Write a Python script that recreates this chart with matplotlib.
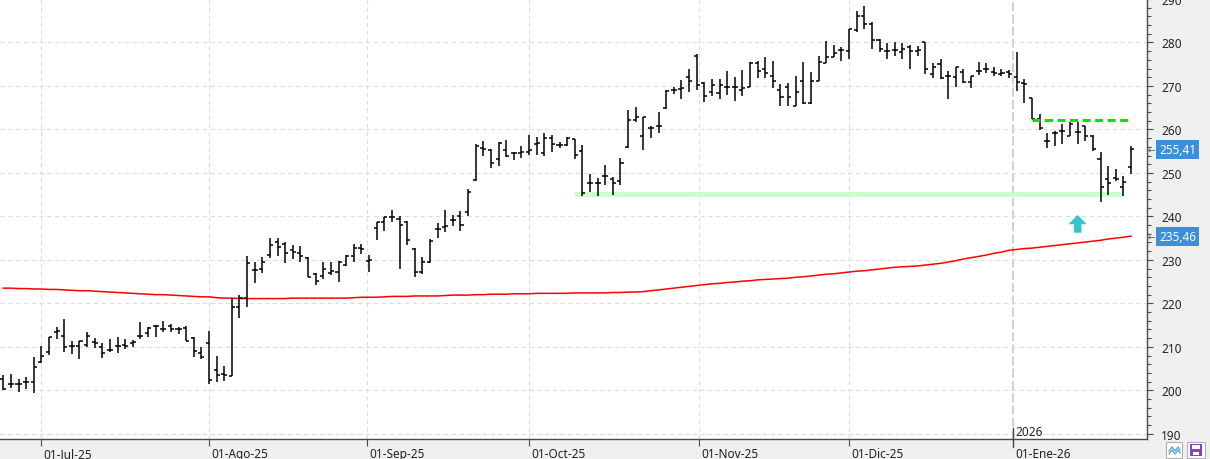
import numpy as np
import pandas as pd
import matplotlib
matplotlib.use('Agg')
import matplotlib.pyplot as plt
import matplotlib.transforms as mtransforms
from matplotlib.lines import Line2D
from matplotlib.patches import Rectangle
from matplotlib.ticker import MultipleLocator

plt.rcParams['font.family'] = ['Noto Sans', 'DejaVu Sans']

# sesiones (mercado USA) del 24-jun-25 al 26-ene-26
holidays = ['2025-07-04', '2025-09-01', '2025-11-27', '2025-12-25',
            '2026-01-01', '2026-01-19']
dates = pd.bdate_range('2025-06-24', '2026-01-26', freq='C', holidays=holidays)

opens = [202.7, 201.5, 201.4, 202.0, 202.0, 206.5, 208.9, 213.4, 212.6, 210.3,
         210.3, 210.5, 211.1, 210.0, 209.2, 210.3, 210.5, 210.9, 212.4, 213.2,
         214.9, 214.0, 214.7, 214.0, 214.4, 212.1, 208.6, 210.8, 204.6, 203.7,
         203.4, 219.2, 221.2, 227.7, 227.9, 231.1, 234.0, 233.6, 232.2, 231.6,
         230.5, 226.7, 226.4, 226.9, 227.1, 228.8, 230.9, 232.7, 229.7, 237.3,
         238.6, 239.8, 239.5, 238.8, 232.4, 227.1, 229.5, 237.1, 237.5, 239.2,
         240.2, 241.1, 248.3, 255.7, 255.2, 253.2, 255.3, 254.5, 254.5, 254.9,
         256.7, 254.5, 258.0, 256.4, 256.4, 257.8, 255.0, 247.7, 247.7, 249.4,
         248.5, 248.1, 256.0, 262.1, 258.5, 260.3, 260.9, 264.9, 269.1, 269.2,
         272.0, 276.9, 270.6, 268.7, 268.3, 269.7, 269.7, 269.1, 269.7, 275.3,
         274.0, 272.3, 269.1, 269.8, 265.4, 271.1, 266.0, 271.1, 275.3, 276.7,
         278.2, 278.0, 282.8, 286.0, 284.2, 280.5, 278.0, 278.2, 277.9, 279.0,
         278.0, 280.0, 272.7, 275.0, 272.3, 272.1, 273.1, 271.0, 273.5, 274.0,
         273.3, 272.7, 273.1, 272.0, 270.6, 267.2, 262.4, 257.3, 259.2, 259.6,
         258.6, 259.3, 260.8, 258.4, 253.1, 248.6, 248.9, 246.8, 251.4]
highs = [203.5, 203.7, 202.7, 203.1, 207.6, 210.2, 212.3, 214.6, 216.3, 211.3,
         211.3, 213.4, 212.1, 210.9, 211.8, 212.3, 211.9, 211.5, 215.7, 214.6,
         215.1, 215.9, 215.3, 214.6, 214.7, 212.3, 209.9, 213.6, 208.0, 205.6,
         221.2, 222.0, 230.9, 229.4, 230.6, 235.0, 235.0, 234.2, 233.5, 233.1,
         230.7, 226.9, 229.4, 229.5, 229.8, 231.2, 233.7, 233.7, 231.1, 238.8,
         239.9, 241.4, 240.2, 239.0, 232.7, 230.7, 234.7, 238.4, 241.4, 240.3,
         241.3, 246.4, 256.6, 257.4, 255.5, 257.0, 257.6, 254.9, 256.1, 258.7,
         258.3, 259.1, 258.7, 257.2, 258.3, 257.8, 256.5, 249.8, 248.9, 251.9,
         249.1, 253.4, 264.5, 265.1, 262.8, 260.7, 264.0, 269.1, 269.7, 271.4,
         274.0, 277.3, 271.0, 271.5, 271.5, 273.5, 272.1, 273.7, 275.6, 275.7,
         276.6, 275.7, 270.5, 270.6, 272.3, 275.6, 273.1, 276.9, 280.3, 279.4,
         279.0, 283.2, 287.3, 288.5, 284.7, 280.9, 279.9, 280.0, 279.8, 279.5,
         279.2, 280.0, 275.3, 276.1, 273.5, 274.3, 273.8, 272.3, 275.4, 275.2,
         274.3, 273.8, 273.7, 277.7, 271.5, 267.3, 263.6, 259.2, 259.6, 261.3,
         261.6, 261.6, 260.8, 258.8, 254.7, 251.7, 250.9, 249.4, 256.3]
lows = [200.1, 200.6, 199.5, 200.4, 199.3, 206.2, 208.2, 211.7, 208.8, 208.4,
        207.3, 210.0, 209.8, 207.5, 208.8, 208.6, 209.6, 209.9, 211.7, 212.3,
        212.3, 213.4, 213.4, 213.0, 211.3, 207.6, 207.3, 201.4, 201.8, 202.1,
        203.4, 216.6, 219.2, 224.7, 226.9, 230.4, 230.9, 229.2, 230.3, 229.5,
        226.1, 224.2, 225.6, 226.5, 225.0, 228.6, 229.5, 231.4, 227.3, 234.5,
        236.7, 238.8, 228.0, 233.5, 226.0, 226.7, 229.3, 235.0, 236.4, 237.9,
        236.7, 240.2, 248.1, 253.8, 251.1, 251.5, 253.6, 252.9, 253.4, 254.2,
        254.2, 253.8, 254.9, 255.7, 256.2, 253.2, 244.7, 245.6, 244.7, 247.3,
        245.0, 247.3, 255.7, 261.8, 255.3, 258.0, 259.2, 264.7, 268.1, 266.9,
        268.7, 269.1, 266.2, 267.6, 266.9, 267.9, 266.6, 267.6, 269.7, 271.8,
        271.9, 269.5, 265.5, 265.3, 265.4, 265.9, 265.8, 271.1, 275.2, 276.6,
        275.8, 276.1, 282.4, 283.2, 278.4, 277.9, 276.1, 276.9, 276.3, 273.8,
        276.9, 272.7, 271.8, 271.5, 266.9, 269.8, 270.6, 269.5, 272.5, 272.9,
        272.3, 272.3, 271.8, 268.9, 266.0, 262.4, 259.9, 255.7, 256.3, 256.7,
        258.5, 256.7, 257.3, 255.0, 243.4, 245.0, 248.1, 244.7, 249.8]
closes = [200.4, 201.5, 201.4, 201.8, 205.3, 208.0, 212.3, 213.6, 210.0, 210.3,
          211.3, 212.6, 210.9, 208.6, 209.2, 210.3, 210.2, 211.1, 212.6, 214.4,
          214.9, 214.0, 214.0, 214.1, 211.3, 209.0, 207.6, 202.4, 203.5, 203.5,
          219.2, 221.2, 229.2, 227.7, 229.6, 233.4, 232.9, 231.5, 231.9, 230.8,
          226.1, 225.2, 228.0, 227.4, 229.5, 230.9, 232.7, 232.6, 229.9, 238.6,
          239.9, 239.8, 238.0, 234.5, 227.1, 229.5, 234.3, 237.1, 237.9, 239.2,
          238.0, 245.5, 256.1, 255.5, 252.3, 256.8, 253.9, 254.5, 254.7, 255.3,
          256.8, 258.0, 256.7, 256.4, 258.0, 254.2, 245.3, 247.7, 247.7, 249.4,
          247.6, 252.3, 262.2, 262.8, 262.8, 260.3, 260.9, 268.9, 269.1, 269.5,
          271.1, 270.2, 267.6, 270.2, 270.2, 269.7, 269.7, 269.5, 275.3, 273.5,
          272.9, 271.2, 267.4, 267.4, 268.7, 266.0, 271.2, 275.6, 276.7, 277.5,
          278.2, 283.0, 286.0, 284.2, 280.5, 278.6, 278.0, 278.2, 278.6, 278.0,
          278.2, 274.0, 274.4, 271.8, 272.3, 274.3, 271.0, 272.3, 273.5, 273.8,
          272.9, 272.9, 272.7, 271.0, 270.5, 262.4, 260.3, 257.3, 259.2, 259.6,
          261.3, 259.3, 258.4, 255.5, 246.8, 247.7, 248.5, 247.9, 255.41]
# media movil (linea roja)
ma_line = [223.5, 223.5, 223.4, 223.4, 223.3, 223.3, 223.2, 223.2, 223.1, 223.0,
           222.9, 222.9, 222.8, 222.7, 222.6, 222.5, 222.4, 222.3, 222.2, 222.1,
           222.0, 222.0, 221.9, 221.8, 221.7, 221.6, 221.5, 221.5, 221.3, 221.2,
           221.2, 221.1, 221.1, 221.1, 221.1, 221.1, 221.1, 221.1, 221.2, 221.2,
           221.2, 221.2, 221.2, 221.2, 221.2, 221.2, 221.3, 221.4, 221.4, 221.4,
           221.5, 221.6, 221.6, 221.6, 221.7, 221.7, 221.7, 221.7, 221.8, 221.9,
           221.9, 221.9, 222.0, 222.0, 222.1, 222.1, 222.1, 222.2, 222.2, 222.2,
           222.3, 222.3, 222.3, 222.3, 222.3, 222.4, 222.4, 222.4, 222.4, 222.4,
           222.5, 222.5, 222.6, 222.6, 222.7, 222.9, 223.1, 223.3, 223.5, 223.7,
           223.9, 224.1, 224.3, 224.5, 224.6, 224.8, 224.9, 225.1, 225.2, 225.4,
           225.5, 225.6, 225.7, 225.8, 226.0, 226.1, 226.3, 226.5, 226.7, 226.8,
           227.0, 227.2, 227.4, 227.5, 227.7, 227.9, 228.1, 228.3, 228.4, 228.5,
           228.6, 228.8, 229.0, 229.2, 229.5, 229.8, 230.2, 230.5, 230.8, 231.1,
           231.5, 231.8, 232.2, 232.4, 232.6, 232.7, 232.9, 233.1, 233.3, 233.5,
           233.7, 233.9, 234.1, 234.3, 234.5, 234.8, 235.0, 235.2, 235.46]

month_abbr = {1: 'Ene', 7: 'Jul', 8: 'Ago', 9: 'Sep', 10: 'Oct', 11: 'Nov', 12: 'Dic'}
month_firsts = pd.date_range('2025-07-01', '2026-01-01', freq='MS')

# lineas dibujadas a mano sobre el grafico
support_low, support_high = 244.5, 245.6
support_from, support_to = 75, 147
resist_level = 262.2
resist_from, resist_to = 135, 148
arrow_bar, arrow_base, arrow_tip = 141, 236.4, 240.1

idx = np.arange(len(dates))
ords = np.array([d.toordinal() for d in dates])
tick_pos = np.interp([d.toordinal() for d in month_firsts], ords, idx)
tick_lab = ['01-%s-%s' % (month_abbr[d.month], d.strftime('%y')) for d in month_firsts]

W, H = 1210, 460
fig = plt.figure(figsize=(W / 100, H / 100), dpi=100, facecolor='#f0f0f0')
ax = fig.add_axes([0, 20 / H, 1147 / W, 440 / H], facecolor='white')
ax.set_xlim(-0.43, 150.1)
ax.set_ylim(188.8, 290.0)

for s in ['top', 'left']:
    ax.spines[s].set_visible(False)
for s in ['right', 'bottom']:
    ax.spines[s].set_color('#4a4a4a')
    ax.spines[s].set_linewidth(1.0)

# grid
ax.yaxis.tick_right()
ax.set_yticks(np.arange(190, 291, 10))
ax.yaxis.set_minor_locator(MultipleLocator(2))
ax.grid(True, axis='y', which='major', color='#dcdcdc', linestyle=(0, (4, 3)), lw=0.8)
for p in tick_pos[:-1]:
    ax.axvline(p, color='#dcdcdc', linestyle=(0, (4, 3)), lw=0.8, zorder=0.5)
ax.axvline(tick_pos[-1], color='#c4c4c4', linestyle=(0, (6, 2)), lw=1.1, zorder=0.5)

ax.tick_params(axis='y', which='major', length=4, width=0.8, color='#4a4a4a',
               pad=6, labelsize=8.5, labelcolor='#222222')
ax.tick_params(axis='y', which='minor', length=3, width=0.8, color='#4a4a4a')
ax.set_xticks(tick_pos)
ax.set_xticklabels(tick_lab)
ax.tick_params(axis='x', length=5, width=0.8, color='#4a4a4a', pad=1,
               labelsize=8.5, labelcolor='#222222')
shift = mtransforms.ScaledTranslation(2 / 100, 0, fig.dpi_scale_trans)
for lab in ax.get_xticklabels():
    lab.set_horizontalalignment('left')
    lab.set_transform(lab.get_transform() + shift)

# marca del cambio de anio
ax.add_line(Line2D([tick_pos[-1]] * 2, [-0.018, 0.025], transform=ax.get_xaxis_transform(),
                   clip_on=False, color='#4a4a4a', lw=1.0))
ax.text(tick_pos[-1] + 0.3, 190.6, month_firsts[-1].strftime('%Y'), fontsize=8.5,
        color='#222222', ha='left', va='center')

# soporte y resistencia
ax.fill_between([support_from, support_to], support_low, support_high,
                color='#ccffcc', lw=0, zorder=1)
ax.plot([resist_from, resist_to], [resist_level] * 2, color='#00e600', lw=2.2,
        linestyle=(0, (2.6, 1.5)), zorder=4)

# barras OHLC
ax.vlines(idx, lows, highs, color='black', lw=1.1, zorder=3)
ax.hlines(opens, idx - 0.4, idx, color='black', lw=1.1, zorder=3)
ax.hlines(closes, idx, idx + 0.4, color='black', lw=1.1, zorder=3)

ax.plot(idx, ma_line, color='#ff0000', lw=1.1, zorder=2)

ax.annotate('', xy=(arrow_bar, arrow_tip), xytext=(arrow_bar, arrow_base),
            arrowprops=dict(arrowstyle='simple,head_length=0.55,head_width=1.1,tail_width=0.45',
                            color='#35c6c9', mutation_scale=10, shrinkA=0, shrinkB=0))

# etiquetas de ultimo valor
for val in [closes[-1], ma_line[-1]]:
    ax.annotate(('%.2f' % val).replace('.', ','), xy=(1, val), xycoords=ax.get_yaxis_transform(),
                xytext=(12, 0), textcoords='offset pixels', ha='left', va='center',
                fontsize=8.5, color='white', annotation_clip=False,
                bbox=dict(boxstyle='square,pad=0.25', fc='#3b8fdc', ec='none'))
    ax.annotate('\u2190', xy=(1, val), xycoords=ax.get_yaxis_transform(),
                xytext=(1, 0), textcoords='offset pixels', ha='left', va='center',
                fontsize=6.5, color='#555555', family='DejaVu Sans', annotation_clip=False)

# botones abajo a la derecha
fig.add_artist(Rectangle((1166 / W, 1 / H), 16 / W, 16 / H, transform=fig.transFigure,
                         fc='white', ec='#b0b0b0', lw=0.8))
fig.add_artist(Line2D(np.array([1169, 1172, 1175, 1178, 1180]) / W,
                      np.array([8, 12, 8, 12, 9]) / H, transform=fig.transFigure,
                      color='#5b9bd5', lw=0.9))
fig.add_artist(Line2D(np.array([1169, 1172, 1175, 1178, 1180]) / W,
                      np.array([5, 9, 5, 9, 6]) / H, transform=fig.transFigure,
                      color='#5b9bd5', lw=0.9))
fig.add_artist(Rectangle((1187 / W, 1 / H), 18 / W, 16 / H, transform=fig.transFigure,
                         fc='white', ec='#b0b0b0', lw=0.8))
fig.add_artist(Rectangle((1190 / W, 3 / H), 12 / W, 12 / H, transform=fig.transFigure,
                         fc='#8a3fc7', ec='none'))
fig.add_artist(Rectangle((1192 / W, 10 / H), 8 / W, 4 / H, transform=fig.transFigure,
                         fc='white', ec='none'))
fig.add_artist(Rectangle((1193 / W, 4 / H), 6 / W, 3 / H, transform=fig.transFigure,
                         fc='white', ec='none'))

fig.savefig('out.png', dpi=100, facecolor=fig.get_facecolor())
